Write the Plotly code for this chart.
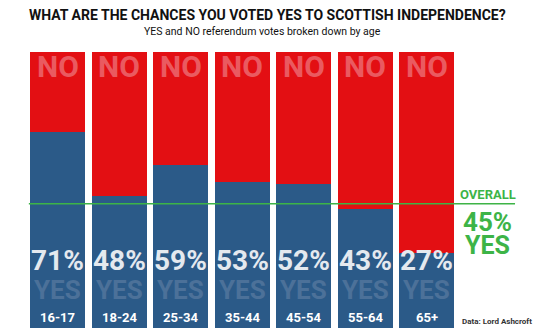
import plotly.graph_objects as go

ages = ["16-17", "18-24", "25-34", "35-44", "45-54", "55-64", "65+"]
yes_pct = [71, 48, 59, 53, 52, 43, 27]
no_pct = [100 - v for v in yes_pct]
overall_yes = 45

title_text = "WHAT ARE THE CHANCES YOU VOTED YES TO SCOTTISH INDEPENDENCE?"
subtitle_text = "YES and NO referendum votes broken down by age"
source_text = "Data: Lord Ashcroft"

RED = "#e30f13"
BLUE = "#2b5a88"
GREEN = "#3db447"
NO_TXT = "#ea5a60"
YES_TXT = "#4c7199"
PCT_TXT = "#e4e9ef"
FONT = "Roboto, sans-serif"

L, W = 26.75, 512.25  # plot area left / width in px (for paper coords)

x = list(range(len(ages)))

fig = go.Figure()
fig.add_trace(go.Bar(x=x, y=yes_pct, marker=dict(color=BLUE, line=dict(width=0)), hoverinfo="skip"))
fig.add_trace(go.Bar(x=x, y=no_pct, marker=dict(color=RED, line=dict(width=0)), hoverinfo="skip"))

ann = []
for i, (a, v) in enumerate(zip(ages, yes_pct)):
    ann.append(dict(x=i, y=94.6, text="<b>NO</b>", showarrow=False, font=dict(family=FONT, size=30, color=NO_TXT), xanchor="center", yanchor="middle"))
    ann.append(dict(x=i, y=24.6, text=f"<b>{v}%</b>", showarrow=False, font=dict(family=FONT, size=28, color=PCT_TXT), xanchor="center", yanchor="middle"))
    ann.append(dict(x=i, y=13.8, text="<b>YES</b>", showarrow=False, font=dict(family=FONT, size=26, color=YES_TXT), xanchor="center", yanchor="middle"))
    ann.append(dict(x=i, y=3.8, text=f"<b>{a}</b>", showarrow=False, font=dict(family=FONT, size=13, color="white"), xanchor="center", yanchor="middle"))

ann.append(dict(x=7.0, y=overall_yes + 3.2, text="<b>OVERALL</b>", showarrow=False, font=dict(family=FONT, size=13, color=GREEN), xanchor="center", yanchor="middle"))
ann.append(dict(x=7.0, y=overall_yes - 6.6, text=f"<b>{overall_yes}%</b>", showarrow=False, font=dict(family=FONT, size=26, color=GREEN), xanchor="center", yanchor="middle"))
ann.append(dict(x=7.0, y=overall_yes - 15.0, text="<b>YES</b>", showarrow=False, font=dict(family=FONT, size=25, color=GREEN), xanchor="center", yanchor="middle"))
ann.append(dict(x=7.15, y=2.2, text="<b>" + source_text + "</b>", showarrow=False, font=dict(family=FONT, size=8, color="#333333"), xanchor="center", yanchor="middle"))

ann.append(dict(xref="paper", yref="paper", x=(267.5 - L) / W, y=1.0, yshift=37, text="<b>" + title_text + "</b>", showarrow=False,
                font=dict(family=FONT, size=14, color="#111111"), xanchor="center", yanchor="middle"))
ann.append(dict(xref="paper", yref="paper", x=(262 - L) / W, y=1.0, yshift=21, text=subtitle_text, showarrow=False,
                font=dict(family=FONT, size=10.5, color="#111111"), xanchor="center", yanchor="middle"))

fig.add_shape(type="line", x0=-0.47, x1=7.44, y0=overall_yes, y1=overall_yes, line=dict(color=GREEN, width=1.5), layer="above")

fig.update_layout(
    width=539, height=336,
    margin=dict(l=L, r=0, t=52, b=8),
    barmode="stack", bargap=0.106,
    showlegend=False,
    paper_bgcolor="white", plot_bgcolor="white",
    xaxis=dict(range=[-0.5, 7.83], visible=False, fixedrange=True),
    yaxis=dict(range=[0, 100], visible=False, fixedrange=True),
    annotations=ann,
)

fig.write_html("out.html", config={"displayModeBar": False})
